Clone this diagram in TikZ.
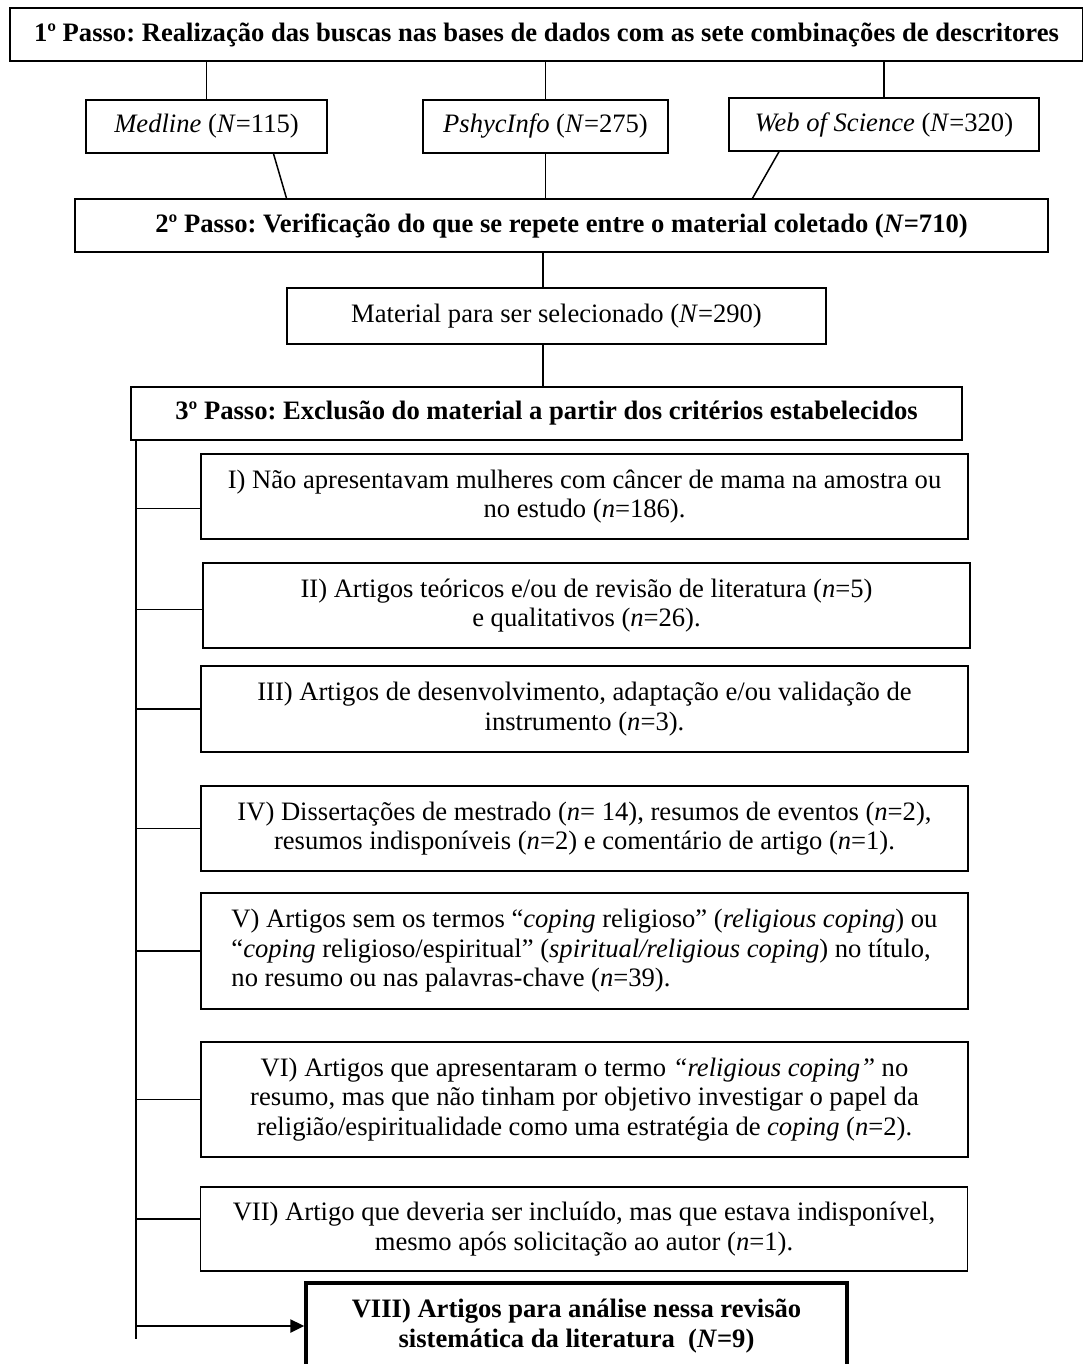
\documentclass[tikz,border=0pt]{standalone}
\usepackage{fontspec}
\setmainfont{Liberation Serif}
\usetikzlibrary{arrows.meta}
\frenchspacing
\newcommand{\txt}{\fontsize{26.6}{29.5}\selectfont}
\tikzset{
  caixa/.style={draw,line width=1.5,inner sep=0,align=center,font=\txt},
  passo/.style={caixa,font=\txt\bfseries,minimum height=53},
  base/.style={caixa,minimum height=53},
  crit/.style={caixa,minimum width=767},
  liga/.style={line width=1.5},
}
\begin{document}
\begin{tikzpicture}[x=1pt,y=-1pt]
\useasboundingbox (0,0) rectangle (1083,1364);
\coordinate (mid) at (543,0);
\coordinate (spine) at (136,1339);

\node[passo,minimum width=1073] (top) at (546.5,34.5) {1º Passo: Realização das buscas nas bases de dados com as sete combinações de descritores};
\node[base,minimum width=241] (med) at (206.5,126.5) {\textit{Medline} (\textit{N}=115)};
\node[base,minimum width=245] (psy) at (545.5,126.5) {\textit{PshycInfo} (\textit{N}=275)};
\node[base,minimum width=310] (wos) at (884,124.5) {\textit{Web of Science} (\textit{N}=320)};
\node[passo,minimum width=973] (s2) at (561.5,225.5) {2º Passo: Verificação do que se repete entre o material coletado (\textit{N}=710)};
\node[base,minimum width=539,minimum height=56] (mat) at (556.5,316) {Material para ser selecionado (\textit{N}=290)};
\node[passo,minimum width=831] (s3) at (546.5,413.5) {3º Passo: Exclusão do material a partir dos critérios estabelecidos};

\node[crit,minimum height=85] (bI) at (584.5,496.5) {I) Não apresentavam mulheres com câncer de mama na amostra ou\\ no estudo (\textit{n}=186).};
\node[crit,minimum height=85] (bII) at (586.5,605.5) {II) Artigos teóricos e/ou de revisão de literatura (\textit{n}=5)\\ e qualitativos (\textit{n}=26).};
\node[crit,minimum height=86] (bIII) at (584.5,709) {III) Artigos de desenvolvimento, adaptação e/ou validação de\\ instrumento (\textit{n}=3).};
\node[crit,minimum height=85] (bIV) at (584.5,828.5) {IV) Dissertações de mestrado (\textit{n}= 14), resumos de eventos (\textit{n}=2),\\ resumos indisponíveis (\textit{n}=2) e comentário de artigo (\textit{n}=1).};
\node[crit,minimum height=116,align=left] (bV) at (584.5,951) {V) Artigos sem os termos “\textit{coping} religioso” (\textit{religious coping}) ou\\ “\textit{coping} religioso/espiritual” (\textit{spiritual/religious coping}) no título,\\ no resumo ou nas palavras-chave (\textit{n}=39).};
\node[crit,minimum height=115] (bVI) at (584.5,1099.5) {VI) Artigos que apresentaram o termo \textit{“religious coping”} no\\ resumo, mas que não tinham por objetivo investigar o papel da\\ religião/espiritualidade como uma estratégia de \textit{coping} (\textit{n}=2).};
\node[crit,minimum height=84] (bVII) at (584,1229) {VII) Artigo que deveria ser incluído, mas que estava indisponível,\\ mesmo após solicitação ao autor (\textit{n}=1).};
\node[caixa,line width=3.5,font=\txt\bfseries,minimum width=541,minimum height=86] (bVIII) at (576.5,1326) {VIII) Artigos para análise nessa revisão\\ sistemática da literatura\ \ (\textit{N}=9)};

\draw[liga] (med.north |- top.south) -- (med.north);
\draw[liga] (psy.north |- top.south) -- (psy.north);
\draw[liga] (wos.north |- top.south) -- (wos.north);
\draw[liga] ([xshift=67]med.south) -- ([xshift=-275]s2.north);
\draw[liga] (psy.south) -- (psy.south |- s2.north);
\draw[liga] ([xshift=-105]wos.south) -- ([xshift=191]s2.north);
\draw[liga] (s2.south -| mid) -- (mat.north -| mid);
\draw[liga] (mat.south -| mid) -- (s3.north -| mid);

\draw[liga] (s3.south -| spine) -- (spine);
\draw[liga] ([yshift=-12]bI.west -| spine) -- ([yshift=-12]bI.west);
\draw[liga] ([yshift=-4]bII.west -| spine) -- ([yshift=-4]bII.west);
\foreach \b in {bIII,bIV,bV,bVI}
  \draw[liga] (\b.west -| spine) -- (\b.west);
\draw[liga] ([yshift=10]bVII.west -| spine) -- ([yshift=10]bVII.west);
\draw[line width=2.5,-{Triangle[length=14,width=13]}] (bVIII.west -| spine) -- (bVIII.west);
\end{tikzpicture}
\end{document}
